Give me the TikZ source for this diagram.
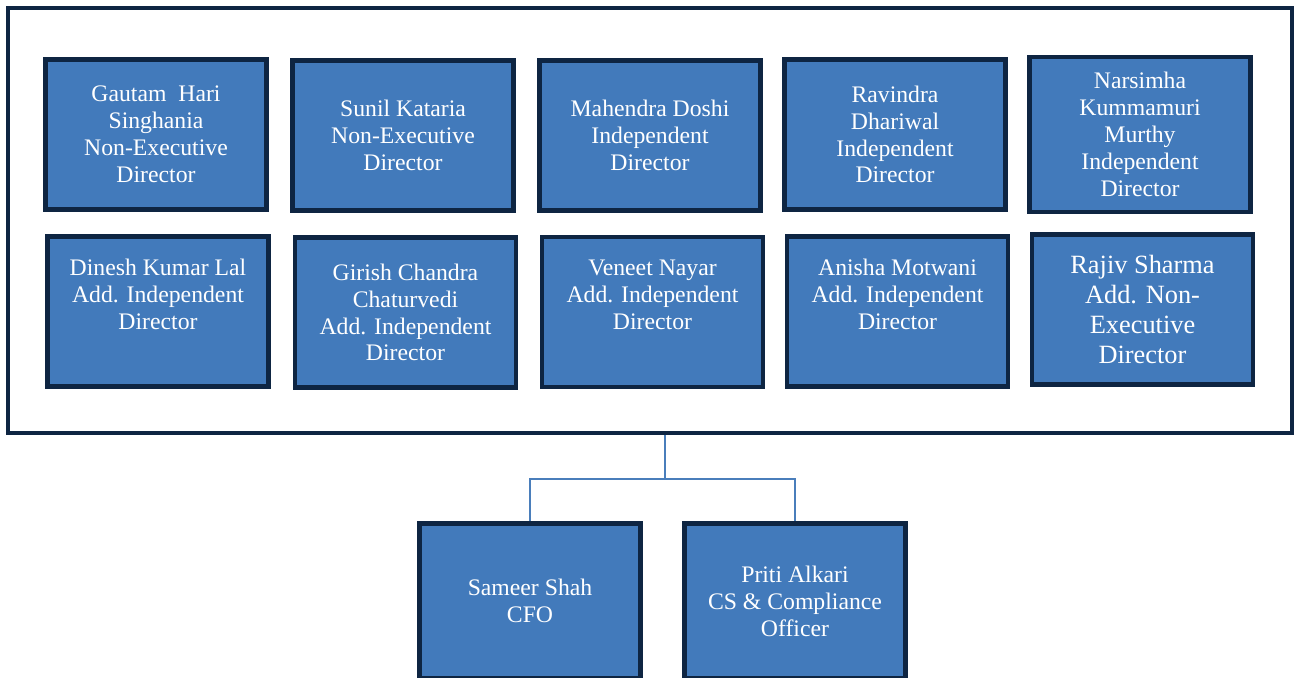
\documentclass[tikz,border=0pt]{standalone}
\usepackage{fontspec}
\setmainfont{Liberation Serif}
\definecolor{Dir}{HTML}{427ABB}
\definecolor{Edge}{HTML}{0E2542}
\definecolor{Link}{HTML}{4A7EBB}

\tikzset{
  director/.style={shape=rectangle, fill=Dir, draw=Edge, line width=2.8pt,
    minimum width=4.42cm, minimum height=3cm, text=white, align=center,
    font=\fontsize{13.5}{15.3}\selectfont},
  link/.style={draw=Link, line width=1.1pt}
}

\begin{document}
\begin{tikzpicture}[x=0.02cm, y=-0.02cm]
    \useasboundingbox (0,0) rectangle (1294,677);

    \node at (650,220.5) (board) [shape=rectangle, draw=Edge, line width=2.3pt,
      minimum width=25.68cm, minimum height=8.5cm] {};

    % board, first row
    \node at (156,134.5) (singhania) [director] {Gautam\ \ Hari\\Singhania\\Non-Executive\\Director};
    \node at (403,135.5) (kataria) [director] {Sunil Kataria\\Non-Executive\\Director};
    \node at (650,135.5) (doshi) [director] {Mahendra Doshi\\Independent\\Director};
    \node at (895,134.5) (dhariwal) [director] {Ravindra\\Dhariwal\\Independent\\Director};
    \node at (1140,134.5) (murthy) [director, minimum height=3.1cm] {Narsimha\\Kummamuri\\Murthy\\Independent\\Director};

    % board, second row
    \node at (158,311.5) (lal) [director] {Dinesh Kumar Lal\\Add. Independent\\Director\\\strut};
    \node at (405.5,312.5) (chaturvedi) [director] {Girish Chandra\\Chaturvedi\\Add. Independent\\Director};
    \node at (652.5,312) (nayar) [director] {Veneet Nayar\\Add. Independent\\Director\\\strut};
    \node at (897.5,311.5) (motwani) [director] {Anisha Motwani\\Add. Independent\\Director\\\strut};
    \node at (1142.5,309.5) (sharma) [director, font=\fontsize{15}{17}\selectfont] {Rajiv Sharma\\Add. Non-\\Executive\\Director};

    % officers
    \node at (530,601) (cfo) [director, minimum height=3.1cm] {Sameer Shah\\CFO};
    \node at (795,601) (cs) [director, minimum height=3.1cm] {Priti Alkari\\CS \& Compliance\\Officer};

    \coordinate (split) at (665,479);
    \draw[link] (split |- board.south) -- (split);
    \draw[link] (cfo.north) |- (split) -| (cs.north);

  \end{tikzpicture}
\end{document}
